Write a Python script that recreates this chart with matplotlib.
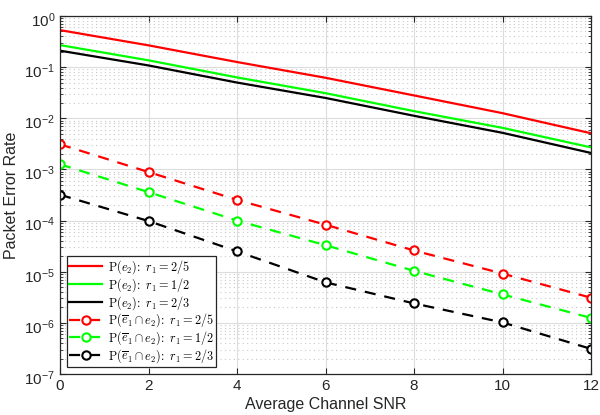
import matplotlib
matplotlib.use("Agg")
import matplotlib.pyplot as plt
import matplotlib.transforms as mtrans
from matplotlib.font_manager import FontProperties
from matplotlib.ticker import FixedLocator, FuncFormatter, NullFormatter
import numpy as np

snr = [0, 2, 4, 6, 8, 10, 12]

pe2_r25 = [0.53, 0.267, 0.126, 0.062, 0.028, 0.0126, 0.0051]
pe2_r12 = [0.27, 0.136, 0.063, 0.031, 0.0138, 0.0065, 0.0027]
pe2_r23 = [0.21, 0.108, 0.050, 0.025, 0.0112, 0.0052, 0.0021]

pj_r25 = [3.1e-3, 8.9e-4, 2.54e-4, 8.3e-5, 2.6e-5, 9.2e-6, 3.1e-6]
pj_r12 = [1.26e-3, 3.6e-4, 1.0e-4, 3.3e-5, 1.04e-5, 3.6e-6, 1.25e-6]
pj_r23 = [3.2e-4, 9.8e-5, 2.5e-5, 6.2e-6, 2.4e-6, 1.02e-6, 3.1e-7]

y_exponents = [-7, -6, -5, -4, -3, -2, -1, 0]

labels = [r'$\mathrm{P}(e_2)\!:\ r_1 = 2/5$',
          r'$\mathrm{P}(e_2)\!:\ r_1 = 1/2$',
          r'$\mathrm{P}(e_2)\!:\ r_1 = 2/3$',
          r'$\mathrm{P}(\overline{e}_1 \cap e_2)\!:\ r_1 = 2/5$',
          r'$\mathrm{P}(\overline{e}_1 \cap e_2)\!:\ r_1 = 1/2$',
          r'$\mathrm{P}(\overline{e}_1 \cap e_2)\!:\ r_1 = 2/3$']
colors = ['#ff0000', '#00ff00', '#000000']

plt.rcParams['font.family'] = ['Liberation Sans', 'DejaVu Sans']
plt.rcParams['mathtext.fontset'] = 'custom'
plt.rcParams['mathtext.rm'] = 'Liberation Sans'
plt.rcParams['mathtext.it'] = 'Liberation Sans:italic'

fig = plt.figure(figsize=(6.0, 4.15), dpi=100)
ax = fig.add_axes([0.1, 0.0988, 0.885, 0.8626])

for y, c, lab in zip([pe2_r25, pe2_r12, pe2_r23], colors, labels[:3]):
    ax.semilogy(snr, y, '-', color=c, lw=1.6, label=lab)
for y, c, lab in zip([pj_r25, pj_r12, pj_r23], colors, labels[3:]):
    ax.semilogy(snr, y, '--', color=c, lw=1.6, marker='o', ms=6,
                mfc='white', mec=c, mew=1.5, dashes=(5, 4), label=lab)

ax.set_xlim(0, 12)
ax.set_ylim(1e-7, 1)
ax.xaxis.set_major_locator(FixedLocator(snr))
major_y = [10.0 ** e for e in y_exponents]
minor_y = [m * 10.0 ** e for e in y_exponents[:-1] for m in range(2, 10)]
ax.yaxis.set_major_locator(FixedLocator(major_y))
ax.yaxis.set_minor_locator(FixedLocator(minor_y))
ax.yaxis.set_minor_formatter(NullFormatter())
ax.yaxis.set_major_formatter(FuncFormatter(lambda v, p: r'$10^{%d}$' % int(round(np.log10(v)))))

ax.grid(True, which='major', color='#dcdcdc', lw=0.8, ls='-')
ax.grid(True, which='minor', axis='y', color='#c8c8c8', lw=0.8, ls=(0, (1, 3)))
ax.set_axisbelow(True)

ax.tick_params(which='both', direction='in', top=True, right=True,
               colors='#262626', labelcolor='#262626', labelsize=11)
ax.tick_params(which='major', length=4)
ax.tick_params(which='minor', length=2)
for s in ax.spines.values():
    s.set_color('#262626')
    s.set_linewidth(0.9)

# shift y tick labels slightly down (MATLAB-like placement)
off = mtrans.ScaledTranslation(0, -3.0 / 100, fig.dpi_scale_trans)
for t in ax.yaxis.get_major_ticks():
    t.label1.set_transform(t.label1.get_transform() + off)

ax.set_xlabel('Average Channel SNR', fontsize=11.5, color='#262626', labelpad=3)
ax.set_ylabel('Packet Error Rate', fontsize=11.5, color='#262626', labelpad=4)

prop = FontProperties(size=8.8, math_fontfamily='cm')
leg = ax.legend(loc='lower left', prop=prop, frameon=True, fancybox=False,
                edgecolor='#262626', framealpha=1, borderpad=0.15,
                labelspacing=0.0, handlelength=2.7, handletextpad=0.5,
                borderaxespad=0.6)
leg.get_frame().set_linewidth(0.9)

fig.savefig('out.png', dpi=100)
